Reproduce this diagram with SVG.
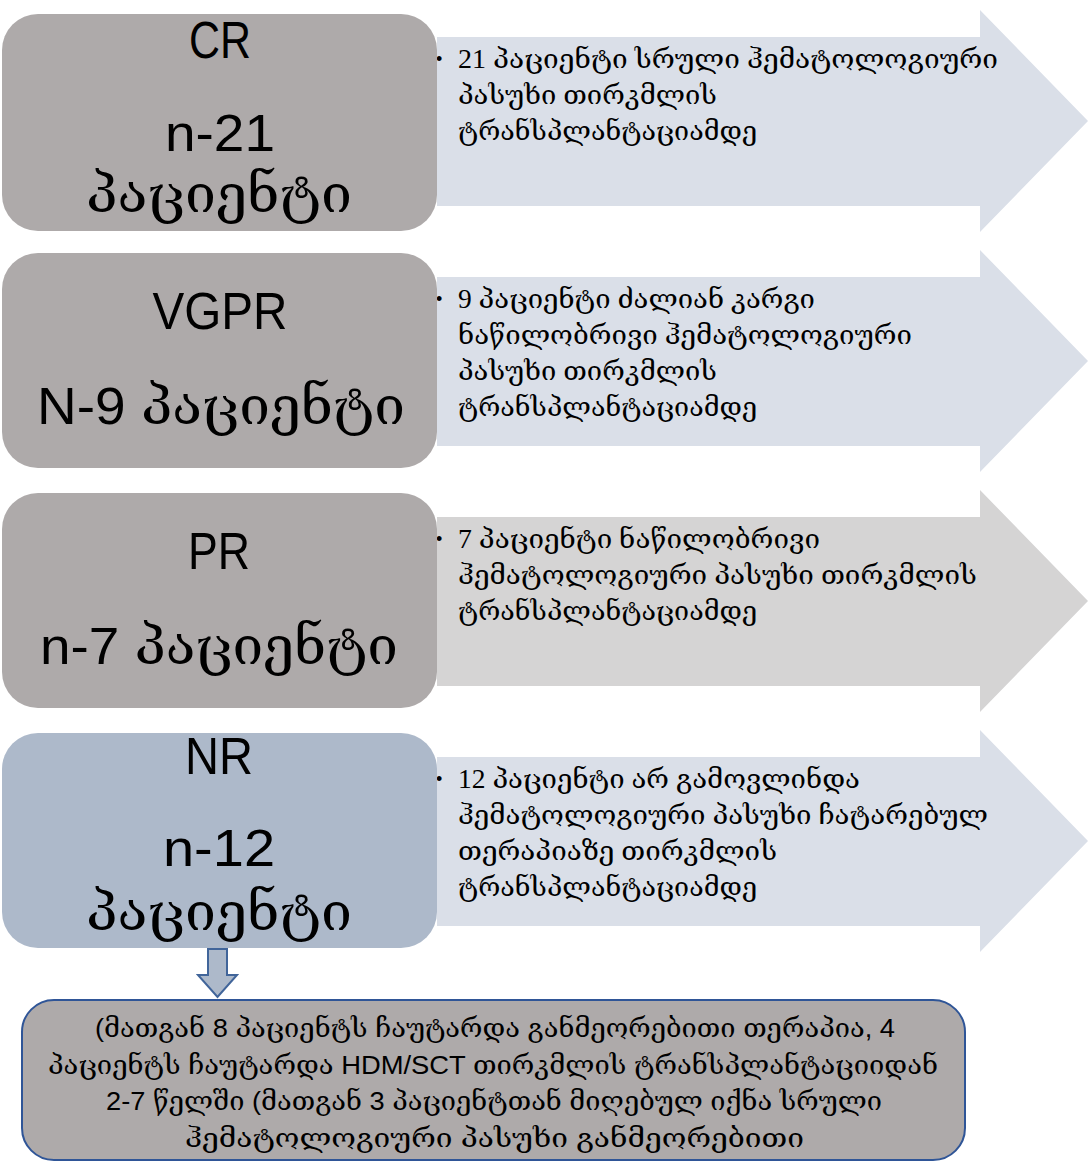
<svg xmlns="http://www.w3.org/2000/svg" width="1088" height="1167" viewBox="0 0 1088 1167">
<style>
.box{fill:#AEAAAA;}
.boxb{fill:#ADB9CA;}
.arr{fill:#DADFE8;}
.arrg{fill:#D5D4D4;}
.big{font-family:'Liberation Sans','DejaVu Serif',serif;font-size:52px;fill:#000;text-anchor:middle;}
.geo{font-family:'Liberation Serif','DejaVu Serif',serif;font-size:52px;fill:#000;}
.t{font-family:'Liberation Serif','DejaVu Serif',serif;font-size:27px;fill:#000;}
.bul{font-family:'Liberation Sans',sans-serif;font-size:18px;fill:#000;}
.bt{font-family:'Liberation Sans','DejaVu Serif',serif;font-size:26px;fill:#000;}
</style>
<rect width="1088" height="1167" fill="#FFFFFF"/>
<g id="connectors">
  <path id="arrow-cr" class="arr" d="M437,37 H980 V10 L1088,121 L980,232 V206 H437 Z"/>
  <path id="arrow-vgpr" class="arr" d="M437,277 H980 V250 L1088,361 L980,472 V446 H437 Z"/>
  <path id="arrow-pr" class="arrg" d="M437,517 H980 V490 L1088,601 L980,712 V686 H437 Z"/>
  <path id="arrow-nr" class="arr" d="M437,757 H980 V730 L1088,841 L980,952 V926 H437 Z"/>
  <path id="arrow-down" d="M208,949 H227 V975 H237 L217.5,997 L198,975 H208 Z" fill="#ADB9CA" stroke="#41659A" stroke-width="2"/>
</g>
<g id="text-cr">
  <text class="bul" x="436" y="65">•</text>
  <text class="t" x="458" y="68" textLength="540" lengthAdjust="spacingAndGlyphs">21 პაციენტი სრული ჰემატოლოგიური</text>
  <text class="t" x="458" y="104" textLength="259" lengthAdjust="spacingAndGlyphs">პასუხი თირკმლის</text>
  <text class="t" x="458" y="140" textLength="299" lengthAdjust="spacingAndGlyphs">ტრანსპლანტაციამდე</text>
</g>
<g id="text-vgpr">
  <text class="bul" x="436" y="305">•</text>
  <text class="t" x="458" y="308" textLength="357" lengthAdjust="spacingAndGlyphs">9 პაციენტი ძალიან კარგი</text>
  <text class="t" x="458" y="344" textLength="454" lengthAdjust="spacingAndGlyphs">ნაწილობრივი ჰემატოლოგიური</text>
  <text class="t" x="458" y="380" textLength="259" lengthAdjust="spacingAndGlyphs">პასუხი თირკმლის</text>
  <text class="t" x="458" y="416" textLength="299" lengthAdjust="spacingAndGlyphs">ტრანსპლანტაციამდე</text>
</g>
<g id="text-pr">
  <text class="bul" x="436" y="545">•</text>
  <text class="t" x="458" y="548" textLength="362" lengthAdjust="spacingAndGlyphs">7 პაციენტი ნაწილობრივი</text>
  <text class="t" x="458" y="584" textLength="519" lengthAdjust="spacingAndGlyphs">ჰემატოლოგიური პასუხი თირკმლის</text>
  <text class="t" x="458" y="620" textLength="299" lengthAdjust="spacingAndGlyphs">ტრანსპლანტაციამდე</text>
</g>
<g id="text-nr">
  <text class="bul" x="436" y="785">•</text>
  <text class="t" x="458" y="788" textLength="402" lengthAdjust="spacingAndGlyphs">12 პაციენტი არ გამოვლინდა</text>
  <text class="t" x="458" y="824" textLength="530" lengthAdjust="spacingAndGlyphs">ჰემატოლოგიური პასუხი ჩატარებულ</text>
  <text class="t" x="458" y="860" textLength="319" lengthAdjust="spacingAndGlyphs">თერაპიაზე თირკმლის</text>
  <text class="t" x="458" y="896" textLength="299" lengthAdjust="spacingAndGlyphs">ტრანსპლანტაციამდე</text>
</g>
<g id="node-cr">
  <rect class="box" x="2" y="14" width="435" height="217" rx="36"/>
  <text class="big" x="220" y="58" textLength="62" lengthAdjust="spacingAndGlyphs">CR</text>
  <text class="big" x="220" y="151" textLength="110" lengthAdjust="spacingAndGlyphs">n-21</text>
  <text class="big" x="219" y="212" textLength="266" lengthAdjust="spacingAndGlyphs">პაციენტი</text>
</g>
<g id="node-vgpr">
  <rect class="box" x="2" y="253" width="435" height="215" rx="36"/>
  <text class="big" x="220" y="329" textLength="135" lengthAdjust="spacingAndGlyphs">VGPR</text>
  <text class="big" x="221" y="424" textLength="368" lengthAdjust="spacingAndGlyphs">N-9 პაციენტი</text>
</g>
<g id="node-pr">
  <rect class="box" x="2" y="493" width="435" height="215" rx="36"/>
  <text class="big" x="219" y="569" textLength="62" lengthAdjust="spacingAndGlyphs">PR</text>
  <text class="big" x="219" y="664" textLength="358" lengthAdjust="spacingAndGlyphs">n-7 პაციენტი</text>
</g>
<g id="node-nr">
  <rect class="boxb" x="2" y="733" width="435" height="215" rx="36"/>
  <text class="big" x="219" y="774" textLength="68" lengthAdjust="spacingAndGlyphs">NR</text>
  <text class="big" x="219" y="866" textLength="112" lengthAdjust="spacingAndGlyphs">n-12</text>
  <text class="big" x="219" y="930" textLength="266" lengthAdjust="spacingAndGlyphs">პაციენტი</text>
</g>
<g id="node-bottom">
  <rect x="22" y="1000" width="943" height="160" rx="32" fill="#AEAAAA" stroke="#2F5597" stroke-width="2"/>
  <text class="bt" x="95" y="1037" textLength="800" lengthAdjust="spacingAndGlyphs">(მათგან 8 პაციენტს ჩაუტარდა განმეორებითი თერაპია, 4</text>
  <text class="bt" x="48" y="1074" textLength="890" lengthAdjust="spacingAndGlyphs">პაციენტს ჩაუტარდა HDM/SCT თირკმლის ტრანსპლანტაციიდან</text>
  <text class="bt" x="106" y="1110" textLength="776" lengthAdjust="spacingAndGlyphs">2-7 წელში (მათგან 3 პაციენტთან მიღებულ იქნა სრული</text>
  <text class="bt" x="185" y="1147" textLength="619" lengthAdjust="spacingAndGlyphs">ჰემატოლოგიური პასუხი განმეორებითი</text>
</g>
</svg>
